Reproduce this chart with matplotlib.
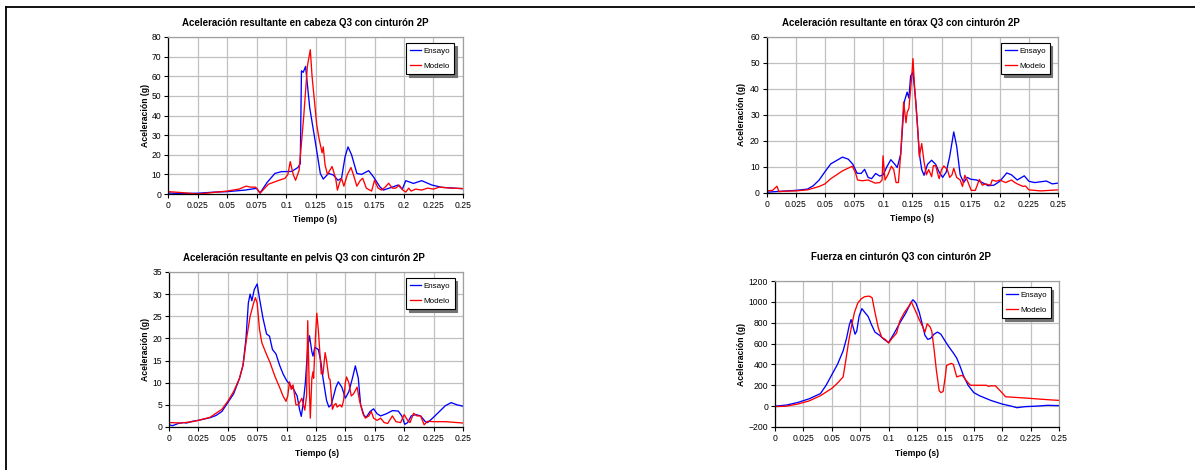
import numpy as np
import matplotlib.pyplot as plt
from matplotlib.lines import Line2D

plt.rcParams['font.family'] = ['Liberation Sans', 'DejaVu Sans']

# -------------------------------------------------------------------------
# Data
# -------------------------------------------------------------------------

xticks = [0, 0.025, 0.05, 0.075, 0.1, 0.125, 0.15, 0.175, 0.2, 0.225, 0.25]
xtick_labels = ["0", "0.025", "0.05", "0.075", "0.1", "0.125", "0.15", "0.175", "0.2", "0.225", "0.25"]

# cabeza
head_ens_t = [0, 0.01, 0.025, 0.04, 0.05, 0.065, 0.075, 0.0778, 0.084, 0.0905, 0.096, 0.1046, 0.110,
              0.112, 0.113, 0.1145, 0.1165, 0.120, 0.1245, 0.129, 0.1315, 0.136, 0.140, 0.144, 0.147,
              0.150, 0.1525, 0.1555, 0.160, 0.164, 0.170, 0.174, 0.1795, 0.1825, 0.1895, 0.195, 0.1985,
              0.2015, 0.208, 0.215, 0.2235, 0.232, 0.25]
head_ens = [0.5, 0.3, 0.4, 1.0, 1.2, 2.0, 2.9, 0.5, 6.0, 10.5, 11.4, 11.5, 13.5,
            15.5, 62.8, 62.0, 65.0, 44.0, 27.5, 10.5, 7.6, 10.5, 9.7, 7.0, 8.0,
            19.0, 24.0, 20.0, 10.5, 10.0, 11.9, 8.8, 3.7, 2.0, 3.4, 4.6, 2.4,
            6.8, 5.4, 6.8, 4.6, 3.4, 2.7]
head_mod_t = [0, 0.01, 0.025, 0.03, 0.05, 0.06, 0.066, 0.07, 0.074, 0.078, 0.085, 0.094, 0.099,
              0.1015, 0.1035, 0.106, 0.108, 0.111, 0.115, 0.118, 0.1205, 0.122, 0.126, 0.128, 0.1305,
              0.1315, 0.133, 0.135, 0.137, 0.139, 0.142, 0.1435, 0.1455, 0.147, 0.149, 0.152, 0.155,
              0.157, 0.160, 0.163, 0.165, 0.168, 0.1725, 0.175, 0.178, 0.181, 0.184, 0.187, 0.190,
              0.193, 0.196, 0.199, 0.2015, 0.204, 0.206, 0.21, 0.215, 0.22, 0.225, 0.23, 0.24, 0.25]
head_mod = [1.2, 0.8, 0.0, 0.3, 1.5, 2.5, 4.0, 3.5, 3.5, 0.5, 5.0, 7.0, 8.0,
            10.0, 16.5, 10.0, 7.0, 12.0, 40.0, 65.0, 73.5, 60.0, 35.0, 28.0, 21.0,
            24.0, 15.0, 10.0, 12.0, 14.0, 8.0, 2.0, 6.0, 8.0, 4.0, 10.0, 13.5,
            10.0, 4.0, 7.0, 8.0, 3.0, 1.5, 7.0, 3.0, 2.0, 3.5, 5.5, 3.0,
            3.0, 4.5, 2.0, 1.0, 3.0, 1.5, 2.5, 2.0, 3.0, 2.5, 3.5, 3.0, 2.8]

# tórax
thor_ens_t = [0, 0.01, 0.025, 0.035, 0.040, 0.045, 0.050, 0.055, 0.060, 0.065, 0.070, 0.074, 0.0775,
              0.081, 0.084, 0.087, 0.090, 0.0935, 0.097, 0.100, 0.103, 0.1065, 0.110, 0.112, 0.115,
              0.118, 0.1205, 0.122, 0.1235, 0.1255, 0.128, 0.131, 0.133, 0.135, 0.138, 0.1415, 0.145,
              0.148, 0.151, 0.154, 0.157, 0.1605, 0.163, 0.166, 0.169, 0.172, 0.175, 0.180, 0.185,
              0.190, 0.195, 0.200, 0.206, 0.210, 0.215, 0.221, 0.225, 0.230, 0.240, 0.245, 0.25]
thor_ens = [0.3, 0.6, 1.0, 1.5, 2.8, 5.0, 8.2, 11.2, 12.5, 13.8, 13.0, 11.0, 7.6,
            7.5, 9.1, 6.0, 5.5, 7.5, 6.5, 7.0, 10.0, 12.8, 11.0, 9.8, 15.0,
            35.0, 38.8, 36.5, 45.0, 46.5, 35.0, 15.0, 9.0, 6.8, 11.0, 12.6, 11.0,
            8.0, 6.0, 8.0, 14.0, 23.5, 18.0, 7.0, 4.0, 6.0, 5.3, 5.0, 4.0,
            2.8, 3.0, 4.5, 7.7, 7.0, 5.0, 6.6, 4.5, 4.0, 4.6, 3.5, 3.8]
thor_mod_t = [0, 0.005, 0.0088, 0.0105, 0.015, 0.025, 0.035, 0.045, 0.050, 0.055, 0.060, 0.065, 0.0735,
              0.076, 0.078, 0.082, 0.087, 0.093, 0.097, 0.099, 0.0998, 0.1015, 0.104, 0.107, 0.109,
              0.111, 0.113, 0.115, 0.1175, 0.1195, 0.1205, 0.122, 0.1245, 0.1255, 0.127, 0.1295, 0.131,
              0.133, 0.135, 0.137, 0.139, 0.1415, 0.143, 0.145, 0.147, 0.148, 0.150, 0.152, 0.155,
              0.157, 0.159, 0.1605, 0.163, 0.166, 0.168, 0.170, 0.172, 0.1755, 0.179, 0.1825, 0.185,
              0.188, 0.192, 0.1935, 0.197, 0.200, 0.205, 0.210, 0.213, 0.215, 0.220, 0.222, 0.225,
              0.235, 0.25]
thor_mod = [0.8, 1.0, 2.6, 0.5, 0.7, 0.8, 1.2, 2.5, 3.5, 5.5, 7.0, 8.5, 10.3,
            8.0, 5.0, 4.7, 5.0, 3.8, 4.0, 5.0, 14.3, 5.0, 7.0, 10.3, 9.0,
            4.0, 4.0, 15.0, 35.0, 27.0, 31.0, 32.5, 45.0, 51.7, 40.0, 25.0, 14.0,
            19.0, 12.0, 7.0, 9.0, 6.3, 10.5, 10.5, 7.0, 5.5, 9.0, 10.4, 9.0,
            6.0, 7.0, 9.5, 6.0, 5.0, 2.5, 6.8, 5.0, 1.0, 1.0, 5.2, 3.0,
            3.5, 3.0, 5.0, 4.5, 5.0, 4.0, 5.0, 4.0, 3.5, 2.5, 2.7, 1.2,
            0.8, 1.2]

# pelvis
pelv_ens_t = [0, 0.003, 0.008, 0.012, 0.015, 0.02, 0.025, 0.03, 0.035, 0.04, 0.045, 0.05, 0.055,
              0.06, 0.063, 0.0655, 0.0675, 0.069, 0.0705, 0.0725, 0.075, 0.077, 0.080, 0.083, 0.0855,
              0.088, 0.091, 0.094, 0.097, 0.1, 0.103, 0.106, 0.109, 0.111, 0.1125, 0.114, 0.116,
              0.118, 0.1195, 0.1215, 0.1225, 0.124, 0.127, 0.129, 0.131, 0.134, 0.136, 0.138, 0.140,
              0.142, 0.144, 0.147, 0.150, 0.153, 0.156, 0.1585, 0.161, 0.163, 0.166, 0.168, 0.171,
              0.174, 0.177, 0.18, 0.185, 0.19, 0.195, 0.198, 0.2005, 0.203, 0.206, 0.21, 0.214,
              0.218, 0.22, 0.225, 0.23, 0.235, 0.24, 0.245, 0.25]
pelv_ens = [0.5, 0.3, 0.8, 1.0, 0.9, 1.3, 1.5, 1.8, 2.1, 2.6, 3.5, 5.5, 7.5,
            11.0, 14.0, 20.0, 28.0, 30.0, 28.5, 31.0, 32.3, 29.0, 24.5, 21.0, 20.5,
            17.5, 16.5, 14.0, 12.0, 10.5, 9.5, 8.5, 7.0, 4.0, 2.4, 5.0, 10.0,
            18.0, 20.6, 17.0, 16.0, 18.0, 17.5, 15.0, 11.0, 6.0, 4.5, 5.0, 7.0,
            9.0, 10.2, 9.0, 6.5, 8.0, 11.0, 13.8, 11.0, 5.0, 2.5, 2.3, 3.5,
            4.1, 3.0, 2.5, 3.0, 3.7, 3.6, 2.5, 0.6, 1.0, 2.5, 2.8, 2.5,
            1.2, 1.0, 2.2, 3.5, 4.8, 5.5, 5.0, 4.7]
pelv_mod_t = [0, 0.01, 0.02, 0.025, 0.035, 0.045, 0.05, 0.055, 0.06, 0.063, 0.066, 0.069, 0.072,
              0.0735, 0.075, 0.077, 0.079, 0.082, 0.086, 0.09, 0.094, 0.097, 0.0995, 0.101, 0.1025,
              0.104, 0.1055, 0.108, 0.11, 0.113, 0.1155, 0.117, 0.118, 0.1192, 0.1202, 0.1215, 0.1225,
              0.123, 0.1245, 0.1257, 0.127, 0.1285, 0.1295, 0.131, 0.1328, 0.134, 0.136, 0.137, 0.139,
              0.1405, 0.142, 0.143, 0.1455, 0.147, 0.1485, 0.15, 0.151, 0.153, 0.155, 0.157, 0.16,
              0.162, 0.165, 0.167, 0.17, 0.172, 0.174, 0.177, 0.18, 0.183, 0.186, 0.19, 0.193,
              0.197, 0.2, 0.203, 0.205, 0.208, 0.211, 0.214, 0.217, 0.22, 0.225, 0.235, 0.25]
pelv_mod = [1.0, 0.9, 1.2, 1.5, 2.2, 4.0, 5.8, 8.0, 11.0, 14.0, 20.0, 25.0, 28.0,
            29.2, 28.0, 22.0, 19.0, 17.0, 14.5, 11.5, 9.0, 7.0, 5.8, 7.0, 10.2,
            8.5, 9.5, 5.0, 5.0, 6.5, 3.8, 7.0, 24.0, 10.0, 2.0, 11.0, 12.5,
            11.0, 20.0, 25.7, 22.0, 16.0, 12.0, 12.0, 16.8, 15.0, 11.0, 10.7, 4.0,
            5.0, 5.3, 4.5, 5.0, 4.5, 6.0, 10.0, 11.3, 10.0, 7.0, 7.5, 9.0,
            6.0, 3.0, 2.0, 2.5, 3.5, 2.0, 1.5, 2.0, 1.0, 0.8, 2.5, 1.2,
            1.0, 2.8, 1.5, 1.0, 3.1, 2.5, 2.5, 0.5, 1.3, 1.2, 1.2, 0.9]

# fuerza
belt_ens_t = [0, 0.01, 0.02, 0.03, 0.04, 0.045, 0.05, 0.055, 0.06, 0.063, 0.0655, 0.067, 0.069,
              0.0705, 0.072, 0.074, 0.0765, 0.079, 0.082, 0.085, 0.088, 0.092, 0.096, 0.1, 0.105,
              0.11, 0.115, 0.12, 0.1215, 0.124, 0.127, 0.13, 0.132, 0.1345, 0.137, 0.14, 0.143,
              0.146, 0.15, 0.153, 0.157, 0.16, 0.163, 0.166, 0.17, 0.175, 0.18, 0.19, 0.2,
              0.208, 0.213, 0.22, 0.23, 0.24, 0.25]
belt_ens = [0, 10, 35, 70, 120, 200, 300, 400, 530, 650, 780, 830, 750,
            690, 720, 860, 935, 900, 860, 780, 710, 680, 640, 610, 700,
            800, 890, 1000, 1020, 990, 900, 770, 680, 640, 650, 690, 710,
            690, 620, 570, 510, 460, 380, 290, 200, 130, 100, 55, 20,
            0, -15, -5, 0, 8, 5]
belt_mod_t = [0, 0.01, 0.02, 0.03, 0.04, 0.05, 0.055, 0.06, 0.0625, 0.065, 0.068, 0.07, 0.073,
              0.076, 0.079, 0.083, 0.0855, 0.088, 0.091, 0.094, 0.097, 0.1, 0.103, 0.107, 0.11,
              0.114, 0.118, 0.12, 0.123, 0.127, 0.1305, 0.132, 0.134, 0.1365, 0.138, 0.14, 0.142,
              0.1445, 0.146, 0.148, 0.15, 0.151, 0.155, 0.157, 0.16, 0.1625, 0.165, 0.168, 0.172,
              0.18, 0.186, 0.188, 0.19, 0.194, 0.198, 0.203, 0.21, 0.22, 0.23, 0.24, 0.25]
belt_mod = [-5, 0, 20, 50, 100, 170, 220, 280, 450, 630, 800, 900, 990,
            1030, 1050, 1055, 1040, 900, 750, 660, 640, 605, 650, 700, 820,
            900, 960, 1000, 930, 830, 750, 710, 790, 760, 720, 550, 350,
            150, 130, 140, 290, 390, 410, 400, 280, 290, 295, 250, 200,
            200, 200, 190, 195, 195, 150, 90, 85, 78, 70, 62, 55]

charts = [
    dict(title="Aceleración resultante en cabeza Q3 con cinturón 2P",
         t_ens=head_ens_t, ens=head_ens, t_mod=head_mod_t, mod=head_mod,
         ylim=(0, 80), yticks=np.arange(0, 81, 10),
         rect=[0.1408, 0.5872, 0.2466, 0.3341], title_xy=(305, 23), xlab_xy=(315, 220), ylab_x=145),
    dict(title="Aceleración resultante en tórax Q3 con cinturón 2P",
         t_ens=thor_ens_t, ens=thor_ens, t_mod=thor_mod_t, mod=thor_mod,
         ylim=(0, 60), yticks=np.arange(0, 61, 10),
         rect=[0.6416, 0.5894, 0.2438, 0.3319], title_xy=(901, 23), xlab_xy=(912, 219), ylab_x=742),
    dict(title="Aceleración resultante en pelvis Q3 con cinturón 2P",
         t_ens=pelv_ens_t, ens=pelv_ens, t_mod=pelv_mod_t, mod=pelv_mod,
         ylim=(0, 35), yticks=np.arange(0, 36, 5),
         rect=[0.1414, 0.0915, 0.2460, 0.3298], title_xy=(304, 258), xlab_xy=(317, 454), ylab_x=146),
    dict(title="Fuerza en cinturón Q3 con cinturón 2P",
         t_ens=belt_ens_t, ens=belt_ens, t_mod=belt_mod_t, mod=belt_mod,
         ylim=(-200, 1200), yticks=np.arange(-200, 1201, 200),
         rect=[0.6485, 0.0915, 0.2377, 0.3106], title_xy=(901, 257), xlab_xy=(917, 454), ylab_x=742),
]

W, H = 1195, 470
fig = plt.figure(figsize=(W / 100, H / 100), dpi=100)


def px(x, y):
    return x / W, 1 - y / H


for c in charts:
    ax = fig.add_axes(c["rect"])
    ax.plot(c["t_ens"], c["ens"], color="#0000ff", linewidth=0.95, label="Ensayo")
    ax.plot(c["t_mod"], c["mod"], color="#ff0000", linewidth=0.95, label="Modelo")

    ax.set_xlim(0, 0.25)
    ax.set_ylim(*c["ylim"])
    ax.set_xticks(xticks)
    ax.set_xticklabels(xtick_labels)
    ax.set_yticks(c["yticks"])
    ax.grid(True, color="#c0c0c0", linewidth=0.9)
    ax.set_axisbelow(True)
    ax.tick_params(labelsize=6.2, length=3, width=0.8, colors="black", pad=2)
    for side in ["top", "right"]:
        ax.spines[side].set_color("#a0a0a0")
    for side in ["left", "bottom"]:
        ax.spines[side].set_color("black")
    for s in ax.spines.values():
        s.set_linewidth(0.9)

    leg = ax.legend(loc="upper right", bbox_to_anchor=(0.985, 0.985), fontsize=5.8,
                    fancybox=False, edgecolor="black", framealpha=1, handlelength=1.4,
                    handletextpad=0.3, borderpad=0.5, labelspacing=0.9,
                    shadow={"color": "0.45", "alpha": 1})
    leg.get_frame().set_linewidth(0.8)

    tx, ty = px(*c["title_xy"])
    fig.text(tx, ty, c["title"], ha="center", va="center", fontsize=7, fontweight="bold")
    lx, ly = px(*c["xlab_xy"])
    fig.text(lx, ly, "Tiempo (s)", ha="center", va="center", fontsize=6.2, fontweight="bold")
    r = c["rect"]
    fig.text(c["ylab_x"] / W, r[1] + r[3] / 2, "Aceleración (g)", ha="center", va="center",
             rotation=90, fontsize=6.2, fontweight="bold")

# page border (top and left)
fig.add_artist(Line2D([6 / W, 1], [1 - 6.5 / H, 1 - 6.5 / H], color="black", linewidth=1.3))
fig.add_artist(Line2D([6 / W, 6 / W], [0, 1 - 6.5 / H], color="black", linewidth=1.3))

fig.savefig("out.png", dpi=100)
